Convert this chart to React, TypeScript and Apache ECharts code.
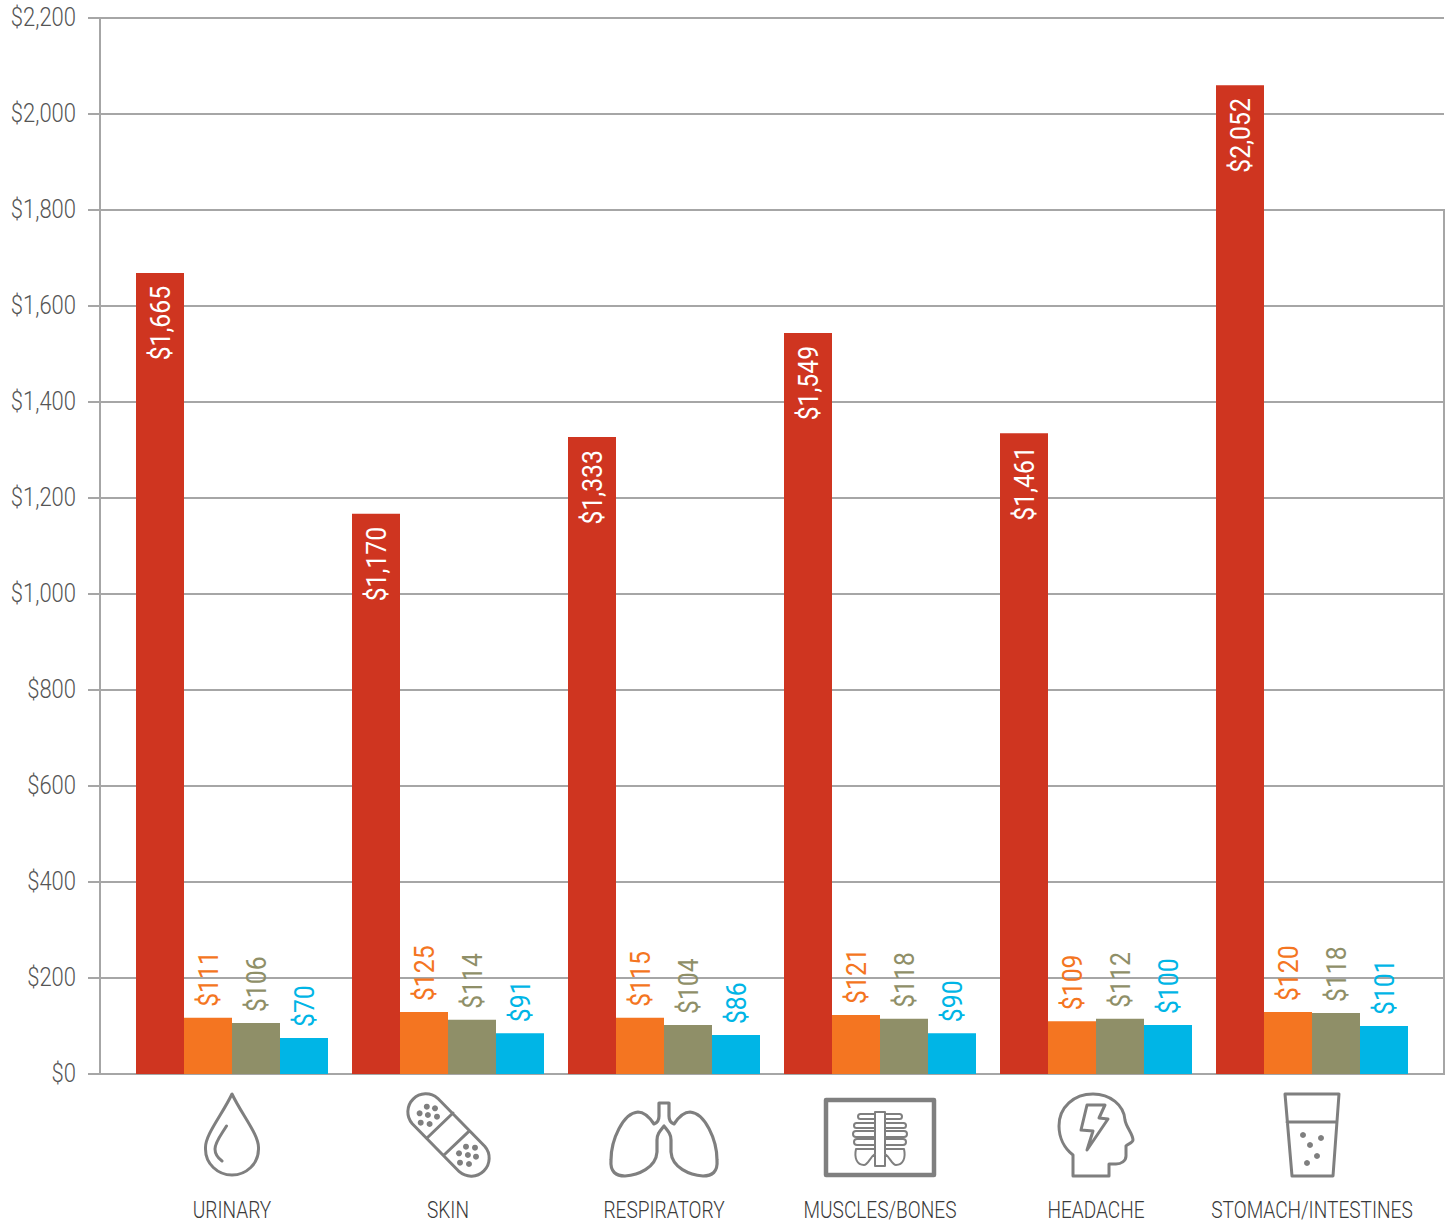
import React, { useEffect, useRef } from "react";
import * as echarts from "echarts";

const categories = ["URINARY", "SKIN", "RESPIRATORY", "MUSCLES/BONES", "HEADACHE", "STOMACH/INTESTINES"];
const yMax = 2200;
const yStep = 200;

// Bar heights as drawn in the picture
const totalBars = [1669, 1167, 1327, 1544, 1335, 2060];
const orangeBars = [117, 129, 117, 123, 110, 129];
const oliveBars = [106, 113, 102, 115, 115, 127];
const blueBars = [75, 85, 81, 85, 102, 100];

// Values printed on the bars
const totalLabels = [1665, 1170, 1333, 1549, 1461, 2052];
const orangeLabels = [111, 125, 115, 121, 109, 120];
const oliveLabels = [106, 114, 104, 118, 112, 118];
const blueLabels = [70, 91, 86, 90, 100, 101];

const FONT = 'Roboto, "Liberation Sans", sans-serif';
const GREY = "#a6a6a6";
const ICON = "#7f7f7f";
const TICK_SIZE = 25;
const VALUE_SIZE = 28;
const CATEGORY_SIZE = 23;
// The reference face is condensed; no condensed face is installed, so the text is narrowed in the SVG.
const narrowing: Record<number, number> = { [TICK_SIZE]: 0.88, [VALUE_SIZE]: 0.885, [CATEGORY_SIZE]: 0.83 };

const rib = (x0: number, x1: number, y0: number, y1: number) => {
  const r = (y1 - y0) / 2;
  const dir = x0 < x1 ? 0 : 1;
  const s = x0 < x1 ? r : -r;
  return `M${x1} ${y0} L${x0 + s} ${y0} A${r} ${r} 0 0 ${dir} ${x0 + s} ${y1} L${x1} ${y1} `;
};

const iconPaths: Record<string, string> = {
  iconDrop:
    "M232 1094 C222 1115 205 1135 205.5 1148 C205 1164 218 1175 232 1175 C246 1175 259 1164 258.5 1148 C259 1135 242 1115 232 1094 Z " +
    "M226.5 1126 C221 1135 215 1142 215 1149 C215 1154 218 1158 222 1161",
  iconBandage:
    "M437.7 1098.3 L484.7 1146.3 A18 18 0 0 1 459.3 1171.7 L412.3 1123.7 A18 18 0 0 1 437.7 1098.3 Z " +
    "M453 1113 L427 1138 M468.6 1131.7 L444 1155",
  iconLungs:
    "M659 1103 L669 1103 L669 1116 C669 1120 671 1123 674 1124 C678 1118 683 1112 690 1112 C705 1113 717 1140 717 1160 C718 1172 712 1176 703 1176 C690 1175 672 1168 671 1152 L671 1140 C671 1134 668 1131 664 1126 C660 1131 657 1134 657 1140 L657 1152 C656 1168 638 1175 625 1176 C616 1176 610 1172 611 1160 C611 1140 623 1113 638 1112 C645 1112 650 1118 654 1124 C657 1123 659 1120 659 1116 Z",
  iconFrame: "M826 1100 L934 1100 L934 1175 L826 1175 Z",
  iconRibs:
    "M875 1112 L885 1112 " +
    "M875 1112 L875 1149 M885 1112 L885 1149 " +
    rib(858, 875, 1114, 1119) +
    rib(854, 875, 1123, 1128) +
    rib(853, 875, 1131, 1137) +
    rib(854, 875, 1139, 1145) +
    rib(902, 885, 1114, 1119) +
    rib(906, 885, 1123, 1128) +
    rib(907, 885, 1131, 1137) +
    rib(906, 885, 1139, 1145) +
    "M875 1149 L875 1166 L885 1166 L885 1149 " +
    "M875 1149 L856 1149 C854 1158 857 1165 864 1165 C868 1165 870 1157 875 1154 " +
    "M885 1149 L904 1149 C906 1158 903 1165 896 1165 C892 1165 890 1157 885 1154",
  iconHead:
    "M1073 1176 L1073 1155 C1064 1148 1059 1137 1059 1126 C1059 1107 1074 1094 1093 1094 C1110 1094 1124 1105 1125 1120 C1126 1127 1133 1134 1133 1140 C1133 1143 1127 1144 1126 1146 L1126 1156 C1126 1161 1121 1164 1116 1164 L1109 1164 L1109 1176 Z " +
    "M1087 1105 L1105 1105 L1099 1118 L1108 1119 L1087 1150 L1093 1131 L1081 1130 Z",
  iconGlass:
    "M1285 1094 L1339 1094 L1333 1176 L1292 1176 Z M1287 1122 L1337 1122",
};
Object.entries(iconPaths).forEach(([name, d]) => {
  echarts.graphic.registerShape(name, echarts.graphic.extendPath(d, {}));
});

const iconWidths: Record<string, number> = { iconFrame: 4.5, iconRibs: 2, iconLungs: 3.2 };
const iconDots: [number, number, number][] = [
  [426.8, 1106.7, 3], [435, 1108.3, 3], [419.6, 1113.3, 3], [427.9, 1115, 3], [437, 1116.7, 3], [420.7, 1122.7, 3], [429.6, 1124, 3],
  [466, 1146.7, 3], [475, 1147.7, 3], [459, 1153.3, 3], [467.9, 1155, 3], [476, 1156.7, 3], [460, 1162.7, 3], [469, 1164, 3],
  [1303, 1135, 3], [1321, 1138, 3], [1310, 1145, 3], [1317, 1156, 3], [1307, 1163, 3],
];

const money = (v: number) => "$" + v.toLocaleString("en-US");

const barSeries = (values: number[], labels: number[], color: string, inside: boolean) => ({
  type: "bar",
  xAxisIndex: 1,
  yAxisIndex: 1,
  barWidth: 48,
  barGap: 0,
  data: values,
  itemStyle: { color },
  label: {
    show: true,
    rotate: 90,
    position: inside ? "insideTop" : "top",
    distance: inside ? 14 : 10,
    offset: [1, 0],
    align: inside ? "right" : "left",
    verticalAlign: "middle",
    color: inside ? "#ffffff" : color,
    fontFamily: FONT,
    fontWeight: 400,
    fontSize: VALUE_SIZE,
    formatter: (p: any) => money(labels[p.dataIndex]),
  },
});

const narrowTexts = (root: HTMLElement) => {
  root.querySelectorAll("svg text").forEach((node) => {
    const t = node as unknown as SVGTextElement;
    if (t.dataset.narrowed) return;
    const k = narrowing[Math.round(parseFloat(getComputedStyle(t).fontSize))];
    if (!k) return;
    const x = parseFloat(t.getAttribute("x") || "0");
    const base = t.getAttribute("transform") || "";
    t.setAttribute("transform", `${base} translate(${x} 0) scale(${k} 1) translate(${-x} 0)`);
    t.dataset.narrowed = "1";
  });
};

export default function App() {
  const ref = useRef<HTMLDivElement>(null);
  useEffect(() => {
    document.body.style.margin = "0";
    const chart = echarts.init(ref.current!, undefined, { renderer: "svg" });
    const rect = { top: 18, height: 1056, outerBoundsMode: "none" };
    chart.setOption({
      animation: false,
      backgroundColor: "#ffffff",
      grid: [
        { left: 100, width: 1344, ...rect },
        { left: 124, width: 1296, ...rect },
      ],
      xAxis: [
        {
          gridIndex: 0,
          type: "category",
          data: categories,
          axisLine: { lineStyle: { color: GREY, width: 2 } },
          axisTick: { show: false },
          axisLabel: { show: false },
        },
        {
          gridIndex: 1,
          type: "category",
          data: categories,
          axisLine: { show: false },
          axisTick: { show: false },
          axisLabel: { interval: 0, margin: 124, fontFamily: FONT, fontWeight: 300, fontSize: CATEGORY_SIZE, color: "#3a3a3a" },
        },
      ],
      yAxis: [
        {
          gridIndex: 0,
          type: "value",
          min: 0,
          max: yMax,
          interval: yStep,
          axisLine: { show: true, lineStyle: { color: GREY, width: 2 } },
          axisTick: { show: true, length: 12, lineStyle: { color: GREY, width: 2 } },
          splitLine: { show: true, lineStyle: { color: GREY, width: 2 } },
          axisLabel: { margin: 24, padding: [2, 0, 0, 0], fontFamily: FONT, fontWeight: 300, fontSize: TICK_SIZE, color: "#555555", formatter: (v: number) => money(v) },
        },
        {
          gridIndex: 1,
          type: "value",
          min: 0,
          max: yMax,
          interval: yStep,
          show: false,
        },
      ],
      series: [
        barSeries(totalBars, totalLabels, "#cf3520", true),
        barSeries(orangeBars, orangeLabels, "#f47521", false),
        barSeries(oliveBars, oliveLabels, "#8f8f68", false),
        barSeries(blueBars, blueLabels, "#00b5e6", false),
      ],
      graphic: [
        { type: "line", silent: true, shape: { x1: 1444, y1: 209, x2: 1444, y2: 1075 }, style: { stroke: GREY, lineWidth: 2 } },
        ...Object.keys(iconPaths).map((name) => ({
          type: name,
          silent: true,
          x: 0,
          y: 0,
          style: { fill: "none", stroke: ICON, lineWidth: iconWidths[name] ?? 3, lineJoin: "round", lineCap: "round" },
        })),
        ...iconDots.map(([cx, cy, r]) => ({
          type: "circle",
          silent: true,
          shape: { cx, cy, r },
          style: { fill: ICON },
        })),
      ],
    });
    narrowTexts(ref.current!);
    chart.on("finished", () => narrowTexts(ref.current!));
    return () => chart.dispose();
  }, []);
  return <div ref={ref} style={{ width: 1450, height: 1222 }} />;
}
